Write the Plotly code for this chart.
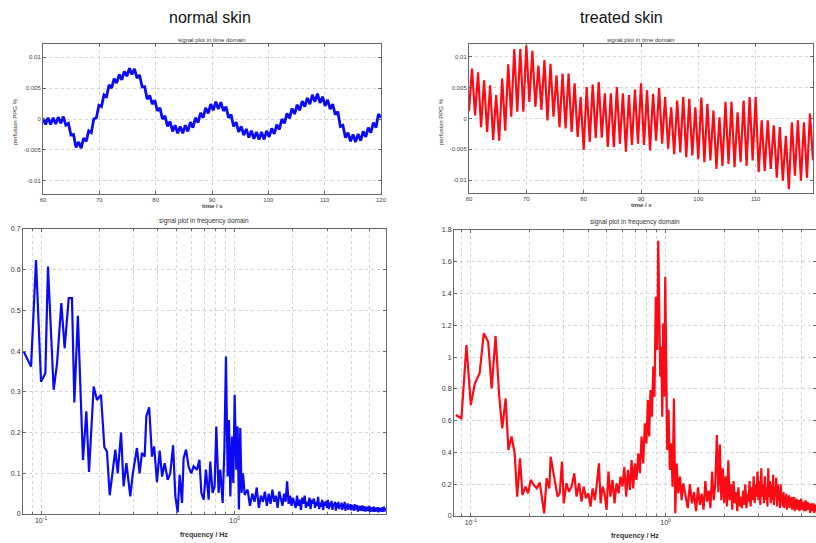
import numpy as np
import plotly.graph_objects as go

# time domain, normal skin (blue) - sampled every ~0.45 s from 60 to 120 s
blue_time = [
    0.0001, -0.0009, 0.0002, -0.0009, 0.0002, -0.0008, 0.0003, -0.0007, 0.0004, -0.0010,
    -0.0007, -0.0026, -0.0025, -0.0046, -0.0037, -0.0047, -0.0031, -0.0036, -0.0019, -0.0022,
    0.0000, 0.0002, 0.0022, 0.0020, 0.0039, 0.0036, 0.0055, 0.0050, 0.0065, 0.0058,
    0.0072, 0.0063, 0.0077, 0.0069, 0.0082, 0.0072, 0.0081, 0.0066, 0.0071, 0.0052,
    0.0052, 0.0032, 0.0038, 0.0024, 0.0030, 0.0013, 0.0018, 0.0000, 0.0005, -0.0012,
    -0.0004, -0.0020, -0.0010, -0.0023, -0.0012, -0.0023, -0.0010, -0.0020, -0.0005, -0.0014,
    0.0002, -0.0006, 0.0010, 0.0002, 0.0018, 0.0009, 0.0024, 0.0014, 0.0028, 0.0016,
    0.0027, 0.0013, 0.0020, 0.0002, 0.0007, -0.0012, -0.0005, -0.0021, -0.0012, -0.0026,
    -0.0016, -0.0030, -0.0019, -0.0032, -0.0021, -0.0033, -0.0021, -0.0033, -0.0019, -0.0029,
    -0.0015, -0.0024, -0.0009, -0.0017, 0.0000, -0.0007, 0.0009, 0.0001, 0.0017, 0.0008,
    0.0023, 0.0014, 0.0029, 0.0020, 0.0034, 0.0024, 0.0039, 0.0028, 0.0041, 0.0026,
    0.0036, 0.0021, 0.0031, 0.0016, 0.0024, 0.0007, 0.0012, -0.0012, -0.0010, -0.0030,
    -0.0022, -0.0036, -0.0025, -0.0037, -0.0024, -0.0035, -0.0020, -0.0029, -0.0014, -0.0022,
    -0.0006, -0.0014, 0.0008, 0.0002,
]

# time domain, treated skin (red) - beat peaks and troughs
red_peaks = [
    0.0081, 0.0075, 0.0062, 0.0054, 0.0038, 0.0065, 0.0088, 0.0113, 0.0113, 0.0119,
    0.0110, 0.0086, 0.0095, 0.0089, 0.0070, 0.0073, 0.0073, 0.0057, 0.0035, 0.0051,
    0.0055, 0.0059, 0.0041, 0.0041, 0.0051, 0.0041, 0.0038, 0.0047, 0.0057, 0.0046,
    0.0040, 0.0050, 0.0035, 0.0018, 0.0029, 0.0035, 0.0032, 0.0018, 0.0034, 0.0024,
    0.0013, 0.0002, 0.0027, 0.0027, 0.0010, 0.0029, 0.0035, 0.0035, -0.0003, -0.0003,
    -0.0011, -0.0014, -0.0028, -0.0006, -0.0003, -0.0006, 0.0008,
]
red_troughs = [
    0.0012, 0.0005, -0.0014, -0.0022, -0.0035, -0.0036, -0.0020, 0.0003, 0.0011, 0.0011,
    0.0027, 0.0019, 0.0014, -0.0003, 0.0003, -0.0014, -0.0016, -0.0022, -0.0030, -0.0051,
    -0.0038, -0.0032, -0.0031, -0.0046, -0.0046, -0.0041, -0.0054, -0.0043, -0.0041, -0.0043,
    -0.0052, -0.0036, -0.0041, -0.0049, -0.0058, -0.0055, -0.0063, -0.0060, -0.0066, -0.0071,
    -0.0068, -0.0082, -0.0077, -0.0074, -0.0079, -0.0071, -0.0077, -0.0068, -0.0087, -0.0085,
    -0.0082, -0.0096, -0.0101, -0.0115, -0.0093, -0.0101, -0.0096, -0.0068,
]

# frequency domain, normal skin: low band read point by point
blue_f_low = [
    0.0814, 0.0888, 0.0942, 0.1, 0.1053, 0.1086, 0.1162, 0.121, 0.1273, 0.1324,
    0.139, 0.1445, 0.1486, 0.155, 0.1647, 0.1714, 0.177, 0.187, 0.1946, 0.204,
    0.2124, 0.219, 0.2263, 0.242, 0.249, 0.259, 0.267, 0.276, 0.289, 0.298,
    0.313, 0.323, 0.332, 0.343, 0.35, 0.362, 0.374, 0.384, 0.397, 0.41,
    0.422, 0.435, 0.451, 0.465, 0.481, 0.494, 0.508, 0.52, 0.535, 0.545,
    0.561, 0.578, 0.597, 0.614, 0.639, 0.658, 0.673, 0.692, 0.711, 0.734,
    0.748, 0.769, 0.788, 0.804, 0.826, 0.843, 0.867, 0.885, 0.902, 0.92,
    0.935, 0.95, 0.969, 0.984, 1.0, 1.02, 1.036, 1.052, 1.069, 1.086,
    1.104, 1.127,
]
blue_a_low = [
    0.399, 0.362, 0.624, 0.325, 0.346, 0.608, 0.305, 0.37, 0.518, 0.407,
    0.53, 0.53, 0.274, 0.487, 0.132, 0.252, 0.103, 0.313, 0.28, 0.293,
    0.164, 0.154, 0.046, 0.158, 0.1, 0.2, 0.068, 0.125, 0.043, 0.1,
    0.162, 0.1, 0.15, 0.141, 0.241, 0.262, 0.141, 0.166, 0.078, 0.156,
    0.092, 0.125, 0.084, 0.1, 0.169, 0.043, 0.004, 0.096, 0.027, 0.137,
    0.158, 0.117, 0.1, 0.117, 0.109, 0.133, 0.052, 0.035, 0.109, 0.035,
    0.129, 0.052, 0.068, 0.215, 0.052, 0.109, 0.027, 0.158, 0.387, 0.092,
    0.231, 0.043, 0.19, 0.076, 0.293, 0.109, 0.215, 0.011, 0.211, 0.052,
    0.1, 0.047,
]
# high band, one value per 1/30 Hz bin from 1.17 Hz up
blue_a_high = [
    0.06, 0.02, 0.05, 0.03, 0.065, 0.015, 0.045, 0.03, 0.055, 0.02, 0.05,
    0.025, 0.06, 0.03, 0.045, 0.015, 0.055, 0.035, 0.02, 0.05, 0.03, 0.08, 0.025, 0.045, 0.02, 0.04,
    0.03, 0.015, 0.045, 0.02, 0.035, 0.01, 0.04, 0.025, 0.045, 0.015,
    0.03, 0.02, 0.04, 0.012, 0.035, 0.025, 0.038, 0.015, 0.03, 0.02,
    0.042, 0.012, 0.028, 0.018, 0.035, 0.01, 0.03, 0.02, 0.032, 0.015,
    0.035, 0.012, 0.028, 0.018, 0.032, 0.01, 0.025, 0.02, 0.03, 0.008,
    0.027, 0.015, 0.03, 0.012, 0.022, 0.018, 0.028, 0.01, 0.025, 0.015,
    0.03, 0.008, 0.022, 0.014, 0.026, 0.01, 0.02, 0.016, 0.024, 0.009,
    0.022, 0.012, 0.02, 0.008, 0.024, 0.01, 0.018, 0.014, 0.022, 0.006,
    0.019, 0.012, 0.02, 0.008, 0.016, 0.011, 0.021, 0.007, 0.017, 0.012,
    0.019, 0.006, 0.015, 0.01, 0.018, 0.007, 0.016, 0.011, 0.02, 0.005,
    0.014, 0.009, 0.017, 0.006, 0.013, 0.01, 0.018, 0.005, 0.014, 0.008,
    0.016, 0.006, 0.012, 0.009, 0.017, 0.004, 0.013, 0.008, 0.015, 0.006,
    0.012, 0.01, 0.016, 0.005, 0.013, 0.008, 0.018, 0.006, 0.012, 0.009,
    0.014,
]

# frequency domain, treated skin
red_f_low = [
    0.0837, 0.0895, 0.095, 0.1, 0.105, 0.111, 0.1166, 0.1228, 0.128, 0.134,
    0.14, 0.145, 0.151, 0.156, 0.162, 0.168, 0.173, 0.179, 0.184, 0.191,
    0.197, 0.203, 0.211, 0.218, 0.226, 0.238, 0.245, 0.253, 0.257, 0.265,
    0.272, 0.279, 0.286, 0.294, 0.3, 0.31, 0.319, 0.329, 0.34, 0.349,
    0.36, 0.37, 0.38, 0.39, 0.401, 0.412, 0.422, 0.434, 0.446, 0.455,
    0.464, 0.475, 0.486, 0.498, 0.509, 0.521, 0.534, 0.547, 0.56, 0.574,
    0.587, 0.601, 0.614, 0.628, 0.641, 0.656, 0.669, 0.682, 0.695, 0.709,
    0.724, 0.738, 0.753, 0.768, 0.783, 0.798, 0.811, 0.824, 0.837, 0.851,
    0.865, 0.877, 0.891, 0.906, 0.917, 0.928, 0.939, 0.95, 0.962, 0.973,
    0.985, 0.996, 1.007, 1.02, 1.036, 1.052, 1.069, 1.086, 1.104, 1.122,
    1.14, 1.162, 1.186, 1.209, 1.233,
]
red_a_low = [
    0.636, 0.615, 1.076, 0.699, 0.835, 0.898, 1.15, 1.097, 0.803, 1.133,
    0.751, 0.552, 0.74, 0.415, 0.5, 0.394, 0.122, 0.363, 0.132, 0.185,
    0.143, 0.227, 0.195, 0.174, 0.21, 0.017, 0.237, 0.174, 0.373, 0.269,
    0.185, 0.122, 0.143, 0.342, 0.08, 0.206, 0.153, 0.185, 0.269, 0.122,
    0.206, 0.09, 0.185, 0.111, 0.143, 0.059, 0.174, 0.1, 0.227, 0.331,
    0.08, 0.185, 0.143, 0.038, 0.279, 0.122, 0.227, 0.08, 0.206, 0.143,
    0.248, 0.185, 0.31, 0.122, 0.29, 0.164, 0.352, 0.174, 0.331, 0.227,
    0.394, 0.269, 0.5, 0.331, 0.583, 0.457, 0.73, 0.5, 0.793, 0.625,
    0.94, 0.751, 1.38, 1.045, 1.733, 1.296, 0.877, 1.066, 0.625, 1.213,
    0.751, 1.506, 0.919, 0.415, 0.667, 0.29, 0.457, 0.185, 0.74, 0.017,
    0.331, 0.143, 0.248, 0.1, 0.206,
]
red_a_high = [
    0.12, 0.05, 0.2, 0.08, 0.15, 0.03, 0.18, 0.07,
    0.14, 0.04, 0.22, 0.09, 0.16, 0.05, 0.28, 0.1, 0.2,
    0.51, 0.15, 0.45, 0.1, 0.3, 0.08,
    0.25, 0.06, 0.35, 0.1, 0.2, 0.04, 0.22, 0.08, 0.15, 0.03, 0.18, 0.06, 0.12, 0.05, 0.16,
    0.07, 0.2, 0.05, 0.14, 0.09, 0.22, 0.06, 0.18, 0.1, 0.25, 0.08, 0.2, 0.12, 0.28, 0.1,
    0.22, 0.07, 0.3, 0.12, 0.2, 0.08, 0.25, 0.1, 0.18, 0.06,
    0.3, 0.12, 0.22, 0.08, 0.2, 0.1, 0.26, 0.07, 0.18, 0.12,
    0.24, 0.06, 0.2, 0.1, 0.16, 0.05, 0.2, 0.08, 0.14, 0.06,
    0.15, 0.05, 0.12, 0.08, 0.14, 0.04, 0.12, 0.07, 0.13, 0.05,
    0.11, 0.06, 0.12, 0.04, 0.1, 0.07, 0.12, 0.03, 0.1, 0.06,
    0.11, 0.04, 0.09, 0.06, 0.1, 0.03, 0.09, 0.05, 0.11, 0.04,
    0.09, 0.06, 0.08, 0.03, 0.09, 0.05, 0.1, 0.03, 0.08, 0.05,
    0.09, 0.04, 0.07, 0.05, 0.08, 0.02, 0.07, 0.05, 0.08, 0.03,
    0.07, 0.04, 0.08, 0.02, 0.06, 0.04, 0.07, 0.03, 0.06, 0.04,
    0.05,
]

W, H = 816, 543


def px(x):
    return x / W


def py(y):
    return 1 - y / H


# sampling grids
t_blue = np.linspace(60, 120, len(blue_time))
red_time = []
for q, p in zip(red_troughs, red_peaks):
    red_time += [q, p]
red_time.append(red_troughs[-1])
t_red = np.linspace(60, 120, len(red_time))

blue_f = np.concatenate([blue_f_low, np.arange(35, 35 + len(blue_a_high)) / 30])
blue_a = np.concatenate([blue_a_low, blue_a_high])
red_f = np.concatenate([red_f_low, np.arange(38, 38 + len(red_a_high)) / 30])
red_a = np.concatenate([red_a_low, red_a_high])

BLUE = "#0a0af5"
RED = "#ff0a14"

fig = go.Figure()
fig.add_trace(go.Scatter(x=t_blue, y=blue_time, mode="lines", line=dict(color=BLUE, width=2.8),
                         xaxis="x", yaxis="y", hoverinfo="skip"))
fig.add_trace(go.Scatter(x=t_red, y=red_time, mode="lines", line=dict(color=RED, width=2.2),
                         xaxis="x2", yaxis="y2", hoverinfo="skip"))
fig.add_trace(go.Scatter(x=blue_f, y=blue_a, mode="lines", line=dict(color=BLUE, width=2.2),
                         xaxis="x3", yaxis="y3", hoverinfo="skip"))
fig.add_trace(go.Scatter(x=red_f, y=red_a, mode="lines", line=dict(color=RED, width=2.2),
                         xaxis="x4", yaxis="y4", hoverinfo="skip"))

tick_font_small = dict(family="Liberation Sans", size=6, color="#444")
tick_font = dict(family="Liberation Sans", size=7, color="#333")
GRID = "#d2d2d2"


def frame(font, **kw):
    d = dict(showline=True, linecolor="#666", linewidth=1, mirror="ticks",
             ticks="inside", ticklen=3, tickcolor="#666",
             showgrid=True, gridcolor=GRID, griddash="dot", gridwidth=1,
             zeroline=False, tickfont=font, fixedrange=True, automargin=False)
    d.update(kw)
    return d


log_minor = dict(tickvals=[0.09, 0.2, 0.3, 0.4, 0.5, 0.6, 0.7, 0.8, 0.9, 2, 3, 4, 5, 6],
                 ticks="inside", ticklen=2, tickcolor="#666",
                 showgrid=True, gridcolor=GRID, griddash="dot", gridwidth=1)

fig.update_layout(
    width=W, height=H,
    margin=dict(l=0, r=0, t=0, b=0, autoexpand=False),
    paper_bgcolor="white", plot_bgcolor="white",
    showlegend=False,
    xaxis=frame(tick_font_small, domain=[px(43), px(381)], anchor="y", range=[60, 120],
                tickvals=[60, 70, 80, 90, 100, 110, 120]),
    yaxis=frame(tick_font_small, domain=[py(194), py(44)], anchor="x", range=[-0.0121, 0.0121],
                tickvals=[-0.01, -0.005, 0, 0.005, 0.01],
                ticktext=["-0.01", "-0.005", "0", "0.005", "0.01"]),
    xaxis2=frame(tick_font_small, domain=[px(469), px(813)], anchor="y2", range=[60, 120],
                 tickvals=[60, 70, 80, 90, 100, 110, 120]),
    yaxis2=frame(tick_font_small, domain=[py(193), py(44)], anchor="x2", range=[-0.0121, 0.0121],
                 tickvals=[-0.01, -0.005, 0, 0.005, 0.01],
                 ticktext=["-0.01", "-0.005", "0", "0.005", "0.01"]),
    xaxis3=frame(tick_font, domain=[px(23), px(386)], anchor="y3", type="log",
                 range=[np.log10(0.0807), np.log10(6.05)], tickvals=[0.1, 1],
                 ticktext=["10<sup>-1</sup>", "10<sup>0</sup>"], minor=log_minor),
    yaxis3=frame(tick_font, domain=[py(514), py(229)], anchor="x3", range=[0, 0.7], dtick=0.1),
    xaxis4=frame(tick_font, domain=[px(454), 1.0], anchor="y4", type="log",
                 range=[np.log10(0.082), np.log10(5.92)], tickvals=[0.1, 1],
                 ticktext=["10<sup>-1</sup>", "10<sup>0</sup>"], minor=log_minor),
    yaxis4=frame(tick_font, domain=[py(516), py(230)], anchor="x4", range=[0, 1.8], dtick=0.2),
)

annotations = [
    dict(text="normal skin", x=px(210), y=py(17), font=dict(size=16, color="#111")),
    dict(text="treated skin", x=px(621), y=py(17), font=dict(size=16, color="#111")),
    dict(text="signal plot in time domain", x=px(212), y=py(40), font=dict(size=6, color="#333")),
    dict(text="signal plot in time domain", x=px(641), y=py(40), font=dict(size=6, color="#333")),
    dict(text="signal plot in frequency domain", x=px(204), y=py(221), font=dict(size=6.5, color="#333")),
    dict(text="signal plot in frequency domain", x=px(635), y=py(222), font=dict(size=6.5, color="#333")),
    dict(text="<b>time / s</b>", x=px(212), y=py(206), font=dict(size=6, color="#444")),
    dict(text="<b>time / s</b>", x=px(641), y=py(205), font=dict(size=6, color="#444")),
    dict(text="<b>frequency / Hz</b>", x=px(204), y=py(535), font=dict(size=7, color="#333")),
    dict(text="<b>frequency / Hz</b>", x=px(635), y=py(536), font=dict(size=7, color="#333")),
    dict(text="perfusion PPG %", x=px(15), y=py(122), textangle=-90, font=dict(size=6, color="#333")),
    dict(text="perfusion PPG %", x=px(441), y=py(122), textangle=-90, font=dict(size=6, color="#333")),
]
for a in annotations:
    a["font"]["family"] = "Liberation Sans"
    fig.add_annotation(xref="paper", yref="paper", showarrow=False, xanchor="center", yanchor="middle", **a)

fig.write_html("out.html", config={"displayModeBar": False},
               post_script="document.body.style.margin='0';")
